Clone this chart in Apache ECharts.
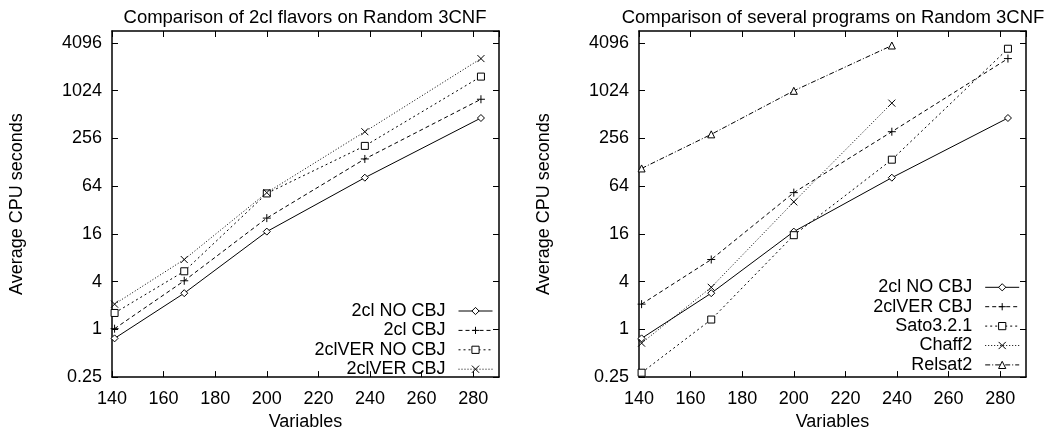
<!DOCTYPE html>
<html>
<head>
<meta charset="utf-8">
<script src="https://cdn.jsdelivr.net/npm/echarts@6/dist/echarts.min.js"></script>
<style>
html,body{margin:0;padding:0;background:#fff;}
#c1{position:absolute;left:0;top:0;width:528px;height:436px;}
#c2{position:absolute;left:527px;top:0;width:530px;height:436px;}
</style>
</head>
<body>
<div id="c1"></div>
<div id="c2"></div>
<script>
// ---- data ----
const variables = [141, 168, 200, 238, 283];
const yTicks = [0.25, 1, 4, 16, 64, 256, 1024, 4096];
// left chart: 2cl flavors
const cl_noCbj = [0.77, 2.86, 17.1, 81.8, 463];
const cl_cbj = [1.02, 4.1, 25.3, 141, 798];
const clVer_noCbj = [1.61, 5.4, 51.8, 206, 1541];
const clVer_cbj = [2.08, 7.6, 53, 311, 2600];
// right chart: several programs
const sato = [0.284, 1.33, 15.4, 138, 3460];
const chaff = [0.67, 3.39, 40.5, 713];
const relsat = [107, 288, 1020, 3800];

const leftTitle = 'Comparison of 2cl flavors on Random 3CNF';
const rightTitle = 'Comparison of several programs on Random 3CNF';

// ---- helpers ----
const FONT = 'Liberation Sans, Arial, sans-serif';
const PLUS = 'path://M0,5L10,5M5,0L5,10';
const CROSS = 'path://M0,0L10,10M0,10L10,0';

function pairs(ys) { return ys.map((y, i) => [variables[i], y]); }

function mkSeries(name, ys, symbol, size, dash) {
  return {
    name: name, type: 'line', data: pairs(ys),
    xAxisIndex: 0, yAxisIndex: 0,
    symbol: symbol, symbolSize: size, showSymbol: true,
    itemStyle: { color: '#fff', borderColor: '#000', borderWidth: 1 },
    lineStyle: { color: '#000', width: 1, type: dash },
    emphasis: { disabled: true },
    animation: false, z: 3
  };
}

function mkOption(title, titleX, series, legendRight, legendTop) {
  const axisLine = { show: true, onZero: false, lineStyle: { color: '#000', width: 1.5 } };
  const tick = { show: true, inside: true, length: 6, lineStyle: { color: '#000', width: 1 } };
  const yBase = {
    type: 'log', logBase: 2, min: 0.25, max: 5792, interval: 2,
    axisLine: axisLine, axisTick: tick, splitLine: { show: false }, minorTick: { show: false }
  };
  const xBase = {
    type: 'value', min: 140, max: 290, interval: 20,
    axisLine: axisLine, axisTick: tick, splitLine: { show: false }
  };
  return {
    animation: false,
    backgroundColor: '#fff',
    textStyle: { fontFamily: FONT },
    title: {
      text: title, left: titleX, top: 3, textAlign: 'center',
      textStyle: { fontFamily: FONT, fontSize: 18.5, fontWeight: 'normal', color: '#000' }
    },
    grid: { left: 111.7, right: 0, top: 31, bottom: 53.3 },
    xAxis: [
      Object.assign({}, xBase, {
        position: 'bottom', name: 'Variables', nameLocation: 'middle', nameGap: 29,
        nameTextStyle: { fontFamily: FONT, fontSize: 18, color: '#000' },
        axisLabel: { color: '#000', fontFamily: FONT, fontSize: 18, margin: 13, showMaxLabel: false }
      }),
      Object.assign({}, xBase, { position: 'top', axisLabel: { show: false } })
    ],
    yAxis: [
      Object.assign({}, yBase, {
        position: 'left', name: 'Average CPU seconds', nameLocation: 'middle', nameGap: 86,
        nameTextStyle: { fontFamily: FONT, fontSize: 18, color: '#000' },
        axisLabel: {
          color: '#000', fontFamily: FONT, fontSize: 18, margin: 10, showMaxLabel: false,
          formatter: function (v) { return String(+v.toPrecision(6)); }
        }
      }),
      Object.assign({}, yBase, { position: 'right', axisLabel: { show: false } })
    ],
    legend: {
      orient: 'vertical', right: legendRight, top: legendTop, align: 'right',
      padding: 0, itemGap: 0, itemWidth: 34, itemHeight: 9,
      selectedMode: false,
      itemStyle: { color: '#fff', borderColor: '#000', borderWidth: 1 },
      lineStyle: { color: '#000', width: 1 },
      textStyle: { fontFamily: FONT, fontSize: 18, color: '#000', lineHeight: 19.4, padding: [0, 8, 0, 0] },
      data: series.map(s => s.name)
    },
    series: series
  };
}

const leftSeries = [
  mkSeries('2cl NO CBJ', cl_noCbj, 'diamond', 7, 'solid'),
  mkSeries('2cl CBJ', cl_cbj, PLUS, 8, [4, 3]),
  mkSeries('2clVER NO CBJ', clVer_noCbj, 'rect', 7, [2, 3]),
  mkSeries('2clVER CBJ', clVer_cbj, CROSS, 7, [1, 2])
];
const rightSeries = [
  mkSeries('2cl NO CBJ', cl_noCbj, 'diamond', 7, 'solid'),
  mkSeries('2clVER CBJ', clVer_cbj, PLUS, 8, [4, 3]),
  mkSeries('Sato3.2.1', sato, 'rect', 7, [2, 3]),
  mkSeries('Chaff2', chaff, CROSS, 7, [1, 2]),
  mkSeries('Relsat2', relsat, 'triangle', 7, [5, 2, 1, 2])
];

const o1 = mkOption(leftTitle, 300, leftSeries, 35, 301.3);
o1.grid.right = 29;
const o2 = mkOption(rightTitle, 301, rightSeries, 37.3, 277.6);
o2.grid.right = 31;

echarts.init(document.getElementById('c1'), null, { renderer: 'canvas' }).setOption(o1);
echarts.init(document.getElementById('c2'), null, { renderer: 'canvas' }).setOption(o2);
</script>
</body>
</html>
